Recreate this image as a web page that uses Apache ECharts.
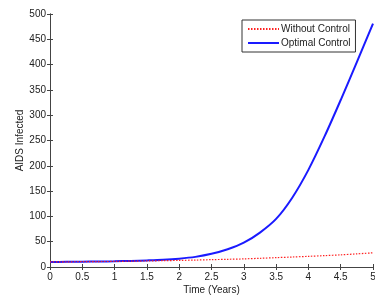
<!DOCTYPE html>
<html>
<head>
<meta charset="utf-8">
<script src="https://cdn.jsdelivr.net/npm/echarts@6/dist/echarts.min.js"></script>
<style>
  html, body { margin: 0; padding: 0; background: #fff; }
  #chart { width: 375px; height: 296px; }
</style>
</head>
<body>
<div id="chart"></div>
<script>
// time in years
const times = [0, 0.25, 0.5, 0.75, 1, 1.25, 1.5, 1.75, 2, 2.25, 2.5, 2.75, 3, 3.25, 3.5, 3.75, 4, 4.25, 4.5, 4.75, 5];
const withoutControl = [10, 10.2, 10.5, 10.8, 11, 11.5, 12, 12.5, 13, 13.7, 14.5, 15.2, 16, 17.2, 18.5, 19.7, 21, 22.5, 24, 26, 28];
const optimalControl = [10, 10.2, 10.5, 10.8, 11.3, 12, 13, 14.3, 16.5, 20, 26, 35, 48, 68, 95, 137, 192, 258, 330, 405, 481];

const seriesNames = ["Without Control", "Optimal Control"];

const chart = echarts.init(document.getElementById("chart"));

const pairs = (ys) => times.map((t, i) => [t, ys[i]]);

const axisFont = { fontFamily: "Liberation Sans", fontSize: 10, color: "#222" };
const lineCol = "#444";

const option = {
  animation: false,
  backgroundColor: "#fff",
  grid: { left: 50, top: 14, right: 2, bottom: 29, outerBoundsMode: "none", containLabel: false },
  legend: {
    orient: "vertical",
    left: 242,
    top: 20,
    width: 110,
    padding: [4, 5, 4, 5],
    itemGap: 4,
    itemWidth: 31,
    itemHeight: 10,
    backgroundColor: "#fff",
    borderColor: "#333",
    borderWidth: 1,
    borderRadius: 0,
    itemStyle: { opacity: 0 },
    textStyle: { fontFamily: "Liberation Sans", fontSize: 10, color: "#222", padding: [0, 0, 0, -3] },
    data: seriesNames
  },
  xAxis: [
    {
      type: "value",
      min: 0, max: 5, interval: 0.5,
      name: "Time (Years)",
      nameLocation: "middle",
      nameGap: 18,
      nameMoveOverlap: false,
      nameTextStyle: axisFont,
      axisLine: { lineStyle: { color: lineCol, width: 1 } },
      axisTick: { inside: true, length: 3, lineStyle: { color: lineCol } },
      axisLabel: Object.assign({ margin: 5 }, axisFont),
      splitLine: { show: false }
    },
    {
      type: "value",
      position: "top",
      min: 0, max: 5, interval: 0.5,
      axisLine: { lineStyle: { color: lineCol, width: 1 } },
      axisTick: { inside: true, length: 3, lineStyle: { color: lineCol } },
      axisLabel: { show: false },
      splitLine: { show: false }
    }
  ],
  yAxis: [
    {
      type: "value",
      min: 0, max: 500, interval: 50,
      name: "AIDS Infected",
      nameLocation: "middle",
      nameGap: 25,
      nameMoveOverlap: false,
      nameTextStyle: axisFont,
      axisLine: { show: true, lineStyle: { color: lineCol, width: 1 } },
      axisTick: { show: true, inside: true, length: 3, lineStyle: { color: lineCol } },
      axisLabel: Object.assign({ margin: 4 }, axisFont),
      splitLine: { show: false }
    },
    {
      type: "value",
      position: "right",
      min: 0, max: 500, interval: 50,
      axisLine: { show: true, lineStyle: { color: lineCol, width: 1 } },
      axisTick: { show: true, inside: true, length: 3, lineStyle: { color: lineCol } },
      axisLabel: { show: false },
      splitLine: { show: false }
    }
  ],
  series: [
    {
      name: seriesNames[0],
      type: "line",
      symbol: "none",
      smooth: 0.3,
      lineStyle: { color: "#ff2020", width: 1.2, type: [1.5, 1.5] },
      itemStyle: { color: "#ff2020" },
      data: pairs(withoutControl),
      z: 3
    },
    {
      name: seriesNames[1],
      type: "line",
      symbol: "none",
      smooth: 0.3,
      lineStyle: { color: "#1a1aff", width: 2 },
      itemStyle: { color: "#1a1aff" },
      data: pairs(optimalControl),
      z: 2
    }
  ]
};

chart.setOption(option);

window.addEventListener("resize", () => {
  chart.resize();
});
</script>
</body>
</html>
